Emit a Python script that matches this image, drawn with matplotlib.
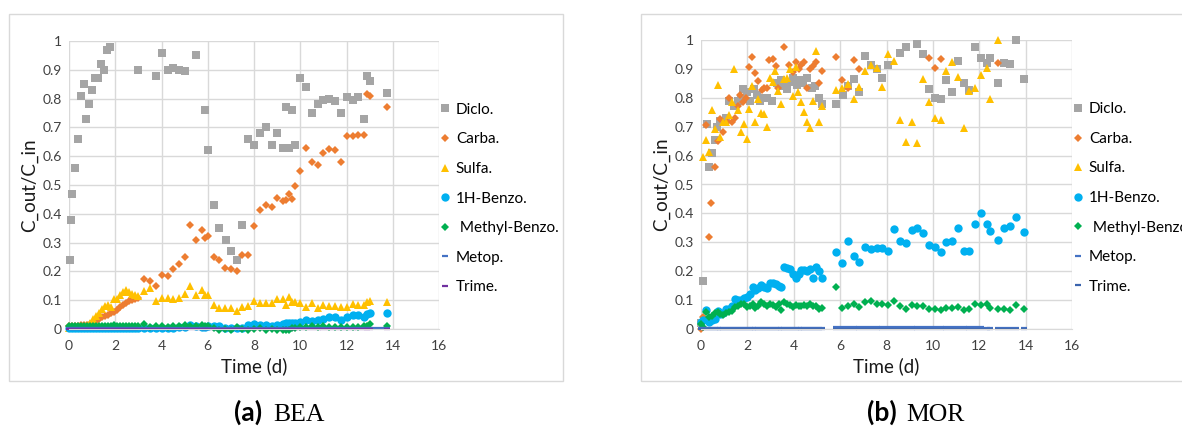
import matplotlib
matplotlib.use("Agg")
import matplotlib.pyplot as plt
from matplotlib.patches import Rectangle
from matplotlib.ticker import FuncFormatter, MultipleLocator

plt.rcParams['font.family'] = ['Lato', 'DejaVu Sans']

# ---------------- BEA (a) ----------------
t_diclo_a = [0.03, 0.08, 0.13, 0.26, 0.39, 0.52, 0.65, 0.74, 0.87, 1.0,
             1.13, 1.26, 1.39, 1.52, 1.64, 1.77, 3.0, 3.76, 4.0, 4.27,
             4.5, 4.76, 5.0, 5.5, 5.9, 6.0, 6.27, 6.5, 6.77, 7.0,
             7.26, 7.5, 7.75, 8.0, 8.27, 8.5, 8.76, 9.0, 9.25, 9.38,
             9.5, 9.64, 9.77, 10.0, 10.26, 10.5, 10.77, 11.0, 11.26, 11.5,
             11.77, 12.0, 12.26, 12.5, 12.77, 12.9, 13.0, 13.75]
diclo_a = [0.24, 0.38, 0.47, 0.56, 0.66, 0.81, 0.85, 0.73, 0.78, 0.83,
           0.87, 0.87, 0.92, 0.90, 0.97, 0.98, 0.90, 0.88, 0.96, 0.90,
           0.905, 0.90, 0.895, 0.95, 0.76, 0.62, 0.43, 0.35, 0.31, 0.27,
           0.24, 0.36, 0.66, 0.64, 0.68, 0.70, 0.64, 0.68, 0.63, 0.77,
           0.63, 0.76, 0.64, 0.87, 0.84, 0.75, 0.78, 0.795, 0.80, 0.79,
           0.75, 0.805, 0.795, 0.805, 0.73, 0.88, 0.86, 0.82]

t_a = [0.0, 0.13, 0.26, 0.39, 0.52, 0.65, 0.78, 0.91, 1.04, 1.17,
       1.3, 1.43, 1.56, 1.69, 1.82, 1.95, 2.08, 2.21, 2.34, 2.47,
       2.6, 2.73, 2.86, 3.0, 3.25, 3.5, 3.76, 4.0, 4.26, 4.5,
       4.76, 5.0, 5.25, 5.5, 5.76, 5.88, 6.0, 6.26, 6.5, 6.76,
       7.0, 7.26, 7.5, 7.76, 8.0, 8.26, 8.5, 8.76, 9.0, 9.26,
       9.38, 9.5, 9.64, 9.76, 10.0, 10.26, 10.5, 10.76, 11.0, 11.26,
       11.5, 11.76, 12.0, 12.26, 12.5, 12.76, 12.88, 13.0, 13.75]
carba_a = [0.010, 0.010, 0.012, 0.012, 0.013, 0.013, 0.015, 0.018, 0.022, 0.028,
           0.034, 0.040, 0.044, 0.048, 0.054, 0.058, 0.065, 0.075, 0.082, 0.090,
           0.097, 0.102, 0.105, 0.107, 0.175, 0.165, 0.150, 0.186, 0.185, 0.210,
           0.226, 0.250, 0.360, 0.310, 0.345, 0.315, 0.323, 0.250, 0.240, 0.213,
           0.208, 0.200, 0.257, 0.258, 0.357, 0.413, 0.430, 0.424, 0.455, 0.445,
           0.448, 0.470, 0.450, 0.497, 0.550, 0.630, 0.580, 0.570, 0.610, 0.625,
           0.620, 0.580, 0.670, 0.670, 0.672, 0.675, 0.815, 0.810, 0.770]
sulfa_a = [0.005, 0.006, 0.007, 0.008, 0.010, 0.012, 0.015, 0.022, 0.035, 0.045,
           0.055, 0.070, 0.080, 0.085, 0.075, 0.105, 0.104, 0.118, 0.130, 0.137,
           0.130, 0.122, 0.118, 0.115, 0.132, 0.142, 0.097, 0.108, 0.108, 0.104,
           0.108, 0.120, 0.150, 0.117, 0.135, 0.118, 0.118, 0.083, 0.073, 0.073,
           0.073, 0.063, 0.075, 0.080, 0.096, 0.092, 0.092, 0.092, 0.105, 0.104,
           0.085, 0.110, 0.093, 0.093, 0.090, 0.077, 0.090, 0.073, 0.082, 0.080,
           0.080, 0.078, 0.078, 0.088, 0.085, 0.085, 0.093, 0.097, 0.093]
benzo_a = [0.002, 0.002, 0.003, 0.002, 0.003, 0.002, 0.003, 0.002, 0.003, 0.002,
           0.003, 0.002, 0.003, 0.002, 0.003, 0.002, 0.003, 0.002, 0.003, 0.002,
           0.003, 0.002, 0.003, 0.003, 0.004, 0.003, 0.004, 0.005, 0.004, 0.005,
           0.006, 0.008, 0.015, 0.010, 0.008, 0.006, 0.010, 0.012, 0.010, 0.004,
           0.003, 0.003, 0.005, 0.015, 0.017, 0.015, 0.015, 0.012, 0.015, 0.017,
           0.020, 0.020, 0.020, 0.020, 0.025, 0.030, 0.028, 0.032, 0.035, 0.040,
           0.043, 0.032, 0.040, 0.050, 0.050, 0.040, 0.053, 0.057, 0.055]
methyl_a = [0.010, 0.012, 0.010, 0.011, 0.009, 0.012, 0.010, 0.011, 0.012, 0.010,
            0.011, 0.012, 0.010, 0.011, 0.012, 0.013, 0.011, 0.010, 0.011, 0.012,
            0.010, 0.011, 0.010, 0.012, 0.017, 0.008, 0.010, 0.010, 0.008, 0.010,
            0.012, 0.013, 0.010, 0.012, 0.015, 0.012, 0.010, 0.003, -0.002, 0.000,
            -0.003, 0.008, 0.000, -0.002, 0.000, 0.003, -0.002, 0.000, -0.003, -0.003,
            -0.003, -0.003, 0.003, 0.005, 0.008, 0.008, 0.010, 0.008, 0.010, 0.008,
            0.008, 0.008, 0.008, 0.008, 0.008, 0.010, 0.012, 0.018, 0.010]
t_metop_a = t_a[:-1] + [13.25, 13.5, 13.75]
metop_a = [0.002, 0.002, 0.002, 0.002, 0.002, 0.002, 0.002, 0.002, 0.002, 0.002,
           0.002, 0.002, 0.002, 0.002, 0.002, 0.002, 0.002, 0.002, 0.002, 0.002,
           0.002, 0.002, 0.002, 0.002, 0.002, 0.002, 0.002, 0.002, 0.002, 0.002,
           0.002, 0.002, 0.002, 0.002, 0.002, 0.002, 0.002, 0.002, 0.002, 0.002,
           0.002, 0.002, 0.002, 0.002, 0.002, 0.002, 0.002, 0.002, 0.002, 0.002,
           0.002, 0.002, 0.002, 0.002, 0.002, 0.002, 0.002, 0.002, 0.002, 0.002,
           0.002, 0.002, 0.002, 0.002, 0.002, 0.002, 0.002, 0.002, 0.003, 0.003,
           0.003]
trime_a = [0.0, 0.0, 0.0, 0.0, 0.0, 0.0, 0.0, 0.0, 0.0, 0.0,
           0.0, 0.0, 0.0, 0.0, 0.0, 0.0, 0.0, 0.0, 0.0, 0.0,
           0.0, 0.0, 0.0, 0.0, 0.0, 0.0, 0.0, 0.0, 0.0, 0.0,
           0.0, 0.0, 0.0, 0.0, 0.0, 0.0, 0.0, 0.0, 0.0, 0.0,
           0.0, 0.0, 0.0, 0.0, 0.0, 0.0, 0.0, 0.0, 0.0, 0.0,
           0.0, 0.0, 0.0, 0.0, 0.0, 0.0, 0.0, 0.0, 0.0, 0.0,
           0.0, 0.0, 0.0, 0.0, 0.0, 0.0, 0.0, 0.0, 0.0]

# ---------------- MOR (b) ----------------
t_diclo_b = [0.0, 0.09, 0.26, 0.35, 0.47, 0.6, 0.7, 0.82, 1.08, 1.2,
             1.42, 1.58, 1.72, 1.82, 1.97, 2.1, 2.28, 2.4, 2.55, 2.68,
             2.83, 3.07, 3.27, 3.45, 3.6, 3.7, 3.88, 3.97, 4.14, 4.27,
             4.4, 4.57, 4.79, 4.92, 5.09, 5.22, 5.82, 6.12, 6.34, 6.6,
             6.8, 7.07, 7.33, 7.6, 7.8, 8.06, 8.58, 8.84, 9.32, 9.57,
             9.83, 10.09, 10.35, 10.57, 10.82, 11.08, 11.34, 11.56, 11.82, 12.07,
             12.33, 12.46, 12.8, 13.07, 13.33, 13.58, 13.93]
diclo_b = [0.02, 0.166, 0.71, 0.56, 0.61, 0.655, 0.70, 0.72, 0.73, 0.79,
           0.77, 0.79, 0.80, 0.83, 0.82, 0.79, 0.83, 0.81, 0.79, 0.80,
           0.80, 0.79, 0.85, 0.86, 0.84, 0.83, 0.855, 0.87, 0.845, 0.86,
           0.85, 0.87, 0.835, 0.84, 0.80, 0.78, 0.78, 0.81, 0.84, 0.865,
           0.82, 0.945, 0.915, 0.90, 0.87, 0.915, 0.955, 0.975, 0.985, 0.95,
           0.83, 0.80, 0.797, 0.86, 0.82, 0.928, 0.852, 0.827, 0.975, 0.937,
           0.92, 0.937, 0.85, 0.922, 0.917, 1.0, 0.864]

t_carba_b = [0.0, 0.08, 0.22, 0.35, 0.44, 0.6, 0.73, 0.82, 0.95, 1.12,
             1.2, 1.34, 1.47, 1.59, 1.68, 1.81, 1.94, 2.07, 2.2, 2.33,
             2.46, 2.63, 2.72, 2.85, 2.93, 3.1, 3.23, 3.32, 3.58, 3.8,
             3.97, 4.1, 4.23, 4.31, 4.44, 4.57, 4.7, 4.83, 4.96, 5.09,
             5.22, 5.82, 6.08, 6.34, 6.6, 6.8, 9.83, 10.09, 10.35, 12.8]
carba_b = [0.0, 0.04, 0.705, 0.318, 0.436, 0.56, 0.65, 0.725, 0.68, 0.715,
           0.80, 0.715, 0.73, 0.77, 0.81, 0.786, 0.80, 0.907, 0.94, 0.887,
           0.857, 0.826, 0.833, 0.833, 0.93, 0.935, 0.91, 0.833, 0.977, 0.915,
           0.89, 0.925, 0.90, 0.915, 0.925, 0.833, 0.90, 0.91, 0.925, 0.852,
           0.893, 0.94, 0.862, 0.833, 0.93, 0.90, 0.937, 0.902, 0.935, 0.922]

t_sulfa_b = [0.09, 0.22, 0.35, 0.47, 0.6, 0.73, 0.82, 0.95, 1.08, 1.2,
             1.33, 1.42, 1.59, 1.72, 1.85, 1.98, 2.07, 2.2, 2.33, 2.46,
             2.6, 2.72, 2.85, 2.98, 3.1, 3.2, 3.32, 3.45, 3.58, 3.7,
             3.84, 3.97, 4.1, 4.18, 4.31, 4.44, 4.57, 4.7, 4.83, 4.96,
             5.09, 5.22, 5.82, 6.08, 6.34, 6.6, 6.8, 7.07, 7.33, 7.6,
             7.8, 8.06, 8.32, 8.58, 8.84, 9.1, 9.32, 9.57, 9.83, 10.09,
             10.35, 10.57, 10.82, 11.08, 11.34, 11.56, 11.82, 12.07, 12.33, 12.46,
             12.8]
sulfa_b = [0.595, 0.653, 0.613, 0.757, 0.692, 0.844, 0.664, 0.717, 0.717, 0.74,
           0.785, 0.90, 0.757, 0.68, 0.71, 0.656, 0.76, 0.84, 0.717, 0.795,
           0.746, 0.745, 0.70, 0.87, 0.855, 0.893, 0.825, 0.778, 0.865, 0.87,
           0.90, 0.806, 0.907, 0.82, 0.786, 0.75, 0.717, 0.695, 0.79, 0.962,
           0.717, 0.77, 0.827, 0.833, 0.848, 0.797, 0.837, 0.893, 0.913, 0.903,
           0.837, 0.952, 0.927, 0.723, 0.647, 0.717, 0.643, 0.865, 0.786, 0.73,
           0.723, 0.893, 0.924, 0.873, 0.695, 0.823, 0.833, 0.879, 0.903, 0.797,
           1.0]

t_b = [0.0, 0.09, 0.22, 0.35, 0.47, 0.6, 0.73, 0.82, 0.95, 1.08,
       1.2, 1.33, 1.47, 1.59, 1.72, 1.85, 1.98, 2.1, 2.24, 2.33,
       2.46, 2.59, 2.72, 2.85, 2.98, 3.1, 3.23, 3.36, 3.45, 3.58,
       3.7, 3.84, 3.97, 4.1, 4.23, 4.31, 4.44, 4.57, 4.7, 4.83,
       4.96, 5.09, 5.22, 5.82, 6.08, 6.34, 6.6, 6.8, 7.07, 7.33,
       7.6, 7.8, 8.06, 8.32, 8.58, 8.84, 9.1, 9.32, 9.57, 9.83,
       10.09, 10.35, 10.57, 10.82, 11.08, 11.34, 11.56, 11.82, 12.07, 12.33,
       12.46, 12.8, 13.07, 13.33, 13.58, 13.93]
benzo_b = [0.025, 0.03, 0.065, 0.025, 0.03, 0.035, 0.062, 0.052, 0.055, 0.068,
           0.068, 0.08, 0.104, 0.1, 0.102, 0.106, 0.111, 0.12, 0.145, 0.135,
           0.143, 0.152, 0.145, 0.143, 0.158, 0.16, 0.155, 0.148, 0.146, 0.214,
           0.21, 0.207, 0.19, 0.175, 0.19, 0.204, 0.204, 0.2, 0.206, 0.176,
           0.214, 0.2, 0.176, 0.267, 0.228, 0.303, 0.253, 0.232, 0.284, 0.277,
           0.28, 0.28, 0.27, 0.345, 0.303, 0.297, 0.343, 0.35, 0.332, 0.29,
           0.284, 0.266, 0.3, 0.303, 0.348, 0.27, 0.27, 0.362, 0.4, 0.362,
           0.34, 0.308, 0.35, 0.357, 0.388, 0.335]
methyl_b = [0.017, 0.007, 0.058, 0.042, 0.045, 0.055, 0.058, 0.052, 0.048, 0.055,
            0.058, 0.062, 0.077, 0.08, 0.086, 0.088, 0.076, 0.08, 0.086, 0.072,
            0.078, 0.094, 0.085, 0.08, 0.087, 0.082, 0.076, 0.085, 0.067, 0.093,
            0.087, 0.082, 0.076, 0.082, 0.078, 0.08, 0.082, 0.08, 0.085, 0.078,
            0.08, 0.07, 0.072, 0.146, 0.072, 0.078, 0.087, 0.076, 0.094, 0.097,
            0.086, 0.085, 0.082, 0.098, 0.078, 0.07, 0.083, 0.08, 0.081, 0.068,
            0.068, 0.065, 0.073, 0.071, 0.075, 0.065, 0.07, 0.087, 0.083, 0.088,
            0.071, 0.07, 0.07, 0.065, 0.082, 0.07]
metop_b = [0.002, 0.002, 0.002, 0.002, 0.002, 0.002, 0.002, 0.002, 0.002, 0.002,
           0.002, 0.002, 0.002, 0.002, 0.002, 0.002, 0.002, 0.002, 0.002, 0.002,
           0.002, 0.002, 0.002, 0.002, 0.002, 0.002, 0.002, 0.002, 0.002, 0.002,
           0.002, 0.002, 0.002, 0.002, 0.002, 0.002, 0.002, 0.002, 0.002, 0.002,
           0.002, 0.002, 0.002, 0.006, 0.006, 0.006, 0.006, 0.006, 0.006, 0.006,
           0.006, 0.006, 0.006, 0.006, 0.006, 0.006, 0.006, 0.006, 0.006, 0.006,
           0.006, 0.006, 0.006, 0.006, 0.006, 0.006, 0.006, 0.006, 0.006, 0.003,
           0.003, 0.003, 0.003, 0.003, 0.003, 0.003]
trime_b = [0.001, 0.001, 0.001, 0.001, 0.001, 0.001, 0.001, 0.001, 0.001, 0.001,
           0.001, 0.001, 0.001, 0.001, 0.001, 0.001, 0.001, 0.001, 0.001, 0.001,
           0.001, 0.001, 0.001, 0.001, 0.001, 0.001, 0.001, 0.001, 0.001, 0.001,
           0.001, 0.001, 0.001, 0.001, 0.001, 0.001, 0.001, 0.001, 0.001, 0.001,
           0.001, 0.001, 0.001, 0.001, 0.001, 0.001, 0.001, 0.001, 0.001, 0.001,
           0.001, 0.001, 0.001, 0.001, 0.001, 0.001, 0.001, 0.001, 0.001, 0.001,
           0.001, 0.001, 0.001, 0.001, 0.001, 0.001, 0.001, 0.001, 0.001, 0.001,
           0.001, 0.001, 0.001, 0.001, 0.001, 0.001]

labels = ['Diclo.', 'Carba.', 'Sulfa.', '1H-Benzo.', ' Methyl-Benzo.', 'Metop.', 'Trime.']
x_ticks = [0, 2, 4, 6, 8, 10, 12, 14, 16]

W, H = 1182, 426
fig = plt.figure(figsize=(W / 100, H / 100), dpi=100)


def px_rect(left, top, right, bottom):
    return [left / W, 1 - bottom / H, (right - left) / W, (bottom - top) / H]


# light frames around each chart
for (l, t, r, b) in [(9, 14, 563, 381), (641, 14, 1200, 381)]:
    fig.patches.append(Rectangle((l / W, 1 - b / H), (r - l) / W, (b - t) / H,
                                 transform=fig.transFigure, fill=False,
                                 edgecolor='#D9D9D9', linewidth=1.0, clip_on=False))

GRID = '#D9D9D9'


def style_axes(ax):
    ax.set_xlim(0, 16)
    ax.set_ylim(0, 1)
    ax.set_xticks(x_ticks)
    ax.yaxis.set_major_locator(MultipleLocator(0.1))
    ax.yaxis.set_major_formatter(FuncFormatter(lambda v, p: f"{v:.1f}".rstrip('0').rstrip('.') if v > 0 else "0"))
    ax.grid(True, color=GRID, linewidth=1.0)
    ax.set_axisbelow(True)
    for s in ax.spines.values():
        s.set_visible(False)
    ax.spines['bottom'].set_visible(True)
    ax.spines['bottom'].set_color(GRID)
    ax.tick_params(axis='both', length=0, labelsize=10, colors='#404040')
    ax.tick_params(axis='x', pad=8)
    ax.tick_params(axis='y', pad=5)
    ax.set_xlabel('Time (d)', fontsize=13.5, labelpad=4, color='#1a1a1a')
    ax.set_ylabel('C_out/C_in', fontsize=13.5, labelpad=3, color='#1a1a1a')


def draw(ax, series, trime_color):
    specs = [
        dict(marker='s', color='#A5A5A5', ms=5.8),
        dict(marker='D', color='#ED7D31', ms=4.0),
        dict(marker='^', color='#FFC000', ms=6.2),
        dict(marker='o', color='#00B0F0', ms=6.0),
        dict(marker='D', color='#00B050', ms=4.0),
        dict(marker='_', color='#4472C4', ms=5.0),
        dict(marker='_', color=trime_color, ms=5.0),
    ]
    for (t, v), lab, sp in zip(series, labels, specs):
        ax.plot(t, v, linestyle='none', marker=sp['marker'], markersize=sp['ms'],
                color=sp['color'], markeredgewidth=1.6 if sp['marker'] == '_' else 0,
                label=lab, clip_on=False)
    ax.legend(loc='center left', bbox_to_anchor=(1.0, 0.453), frameon=False,
              fontsize=11, handlelength=0.8, handletextpad=0.3,
              labelspacing=1.02, borderpad=0, borderaxespad=0, numpoints=1)


axA = fig.add_axes(px_rect(69, 41, 439, 329))
style_axes(axA)
draw(axA, [(t_diclo_a, diclo_a), (t_a, carba_a), (t_a, sulfa_a), (t_a, benzo_a),
           (t_a, methyl_a), (t_metop_a, metop_a), (t_a, trime_a)], '#7030A0')

axB = fig.add_axes(px_rect(701, 40, 1072, 329))
style_axes(axB)
draw(axB, [(t_diclo_b, diclo_b), (t_carba_b, carba_b), (t_sulfa_b, sulfa_b), (t_b, benzo_b),
           (t_b, methyl_b), (t_b, metop_b), (t_b, trime_b)], '#3B64AD')

# sub-captions
base_y = 1 - 421 / H
fig.text(234 / W, base_y, '(a)', ha='left', va='baseline', fontsize=19,
         fontweight='bold', family=['Lato', 'DejaVu Sans'])
fig.text(273 / W, base_y, 'BEA', ha='left', va='baseline', fontsize=18.5,
         family=['Liberation Serif', 'DejaVu Serif'])
fig.text(867 / W, base_y, '(b)', ha='left', va='baseline', fontsize=19,
         fontweight='bold', family=['Lato', 'DejaVu Sans'])
fig.text(906 / W, base_y, 'MOR', ha='left', va='baseline', fontsize=18.5,
         family=['Liberation Serif', 'DejaVu Serif'])

fig.savefig('out.png', dpi=100)
